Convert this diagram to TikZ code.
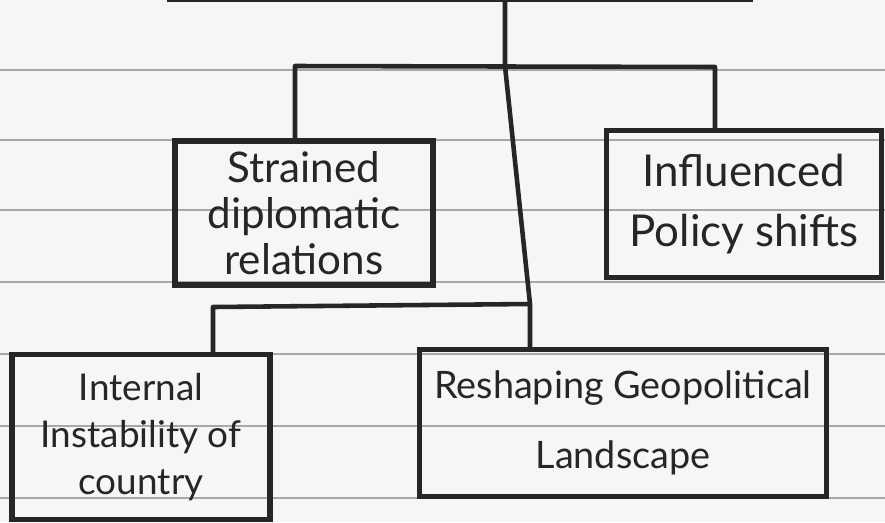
\documentclass[tikz,border=0pt]{standalone}
\usepackage{fontspec}
\setmainfont{Lato}
\usepackage{xcolor}
\usetikzlibrary{positioning}
\definecolor{ink}{HTML}{262626}
\definecolor{paper}{HTML}{F6F6F4}
\definecolor{ruling}{HTML}{A8A8A8}

\begin{document}
\begin{tikzpicture}[
    x=0.02cm, y=-0.02cm,
    box/.style={rectangle, draw=ink, line width=3pt, align=center, inner sep=0pt,
                text=ink, font=\fontsize{22}{26}\selectfont},
    link/.style={draw=ink, line width=2.6pt, line join=round},
    ruled/.style={draw=ruling, line width=1pt},
]
    \useasboundingbox (0,0) rectangle (885,522);
    \fill[paper] (0,0) rectangle (885,522);

    % Ruled paper
    \foreach \y in {70,140,210,282,354,426,498} {
        \draw[ruled] (0,\y) -- (885,\y);
    }

    % Boxes
    \node[box, minimum width=11.6cm, minimum height=2.5cm, anchor=south] (topic) at (460,2) {};
    \node[box, minimum width=5.16cm, minimum height=2.88cm,
          font=\fontsize{24}{26}\selectfont] (strained) at (304,213)
        {Strained\\diplomatic\\relations};
    \node[box, minimum width=5.5cm, minimum height=2.94cm,
          font=\fontsize{25}{34}\selectfont] (influenced) at (744,204)
        {Influenced\\Policy shifts};
    \node[box, minimum width=5.16cm, minimum height=3.3cm,
          font=\fontsize{21}{27}\selectfont] (internal) at (141,437)
        {Internal\\Instability of\\country};
    \node[box, minimum width=8.14cm, minimum height=2.94cm,
          font=\fontsize{21.5}{40}\selectfont] (reshape) at (623,423)
        {Reshaping Geopolitical\\Landscape};

    % Connectors
    \coordinate (hub) at (505,66);
    \coordinate (fork) at (530,304);
    \coordinate (lft) at (295,66);
    \coordinate (rgt) at (715,67);
    \coordinate (lft2) at (213,307);

    \draw[link] (topic.south -| hub) -- (hub) -- (fork) -- (fork |- reshape.north);
    \draw[link] (lft |- strained.north) -- (lft) -- (rgt) -- (rgt |- influenced.north);
    \draw[link] (fork) -- (lft2) -- (lft2 |- internal.north);
\end{tikzpicture}
\end{document}
